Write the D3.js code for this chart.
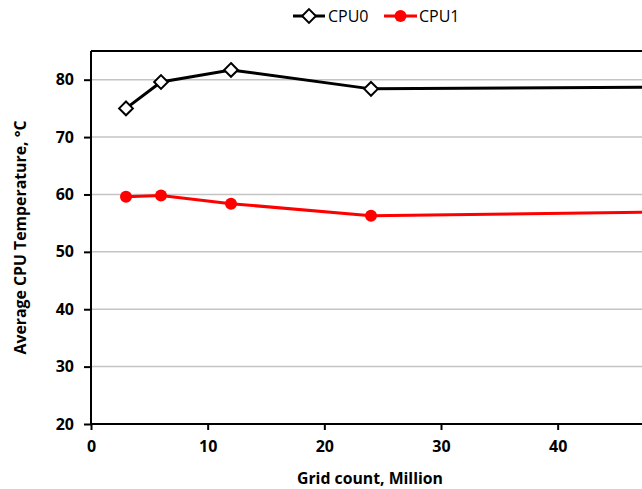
<!DOCTYPE html>
<html>
<head>
<meta charset="utf-8">
<script src="https://cdn.jsdelivr.net/npm/d3@7"></script>
<style>
  html, body { margin: 0; padding: 0; background: #fff; }
  svg { display: block; }
  text { font-family: "Open Sans", "Liberation Sans", sans-serif; }
</style>
</head>
<body>
<svg id="chart" width="642" height="489"></svg>
<script>
// Grid count (million cells) and average CPU temperature per socket
const gridCount = [3, 6, 12, 24, 48];
const cpu0 = [75.0, 79.6, 81.7, 78.4, 78.7];
const cpu1 = [59.6, 59.8, 58.4, 56.3, 56.9];
const seriesNames = ["CPU0", "CPU1"];
const xTicks = [0, 10, 20, 30, 40];
const yTicks = [20, 30, 40, 50, 60, 70, 80];

const svg = d3.select("#chart");

const x = d3.scaleLinear().domain([0, 48]).range([91, 651]);
const y = d3.scaleLinear().domain([20, 85]).range([424, 51]);

// horizontal gridlines
svg.append("g")
  .selectAll("line")
  .data(yTicks.filter(t => t > 20))
  .join("line")
  .attr("x1", x(0)).attr("x2", x(48))
  .attr("y1", d => y(d)).attr("y2", d => y(d))
  .attr("stroke", "#c4c4c4")
  .attr("stroke-width", 1.5);

// top frame
svg.append("line")
  .attr("x1", x(0)).attr("x2", x(48))
  .attr("y1", y(85)).attr("y2", y(85))
  .attr("stroke", "#000").attr("stroke-width", 2);

// axes
const xAxis = svg.append("g")
  .attr("transform", `translate(0,${y(20)})`)
  .call(d3.axisBottom(x).tickValues(xTicks).tickSize(6).tickPadding(11).tickFormat(d3.format("d")));
const yAxis = svg.append("g")
  .attr("transform", `translate(${x(0)},0)`)
  .call(d3.axisLeft(y).tickValues(yTicks).tickSize(7).tickPadding(10).tickFormat(d3.format("d")));

[xAxis, yAxis].forEach(g => {
  g.select(".domain").attr("stroke", "#000").attr("stroke-width", 2);
  g.selectAll(".tick line").attr("stroke", "#000").attr("stroke-width", 2);
  g.selectAll(".tick text")
    .attr("fill", "#000")
    .style("font-size", "16px")
    .style("font-weight", "bold");
});
// axis lines span the full plot area
xAxis.select(".domain").attr("d", `M${x(0)},0H${x(48)}`);
yAxis.select(".domain").attr("d", `M0,${y(20)}V${y(85)}`);

// axis titles
svg.append("text")
  .attr("x", 370).attr("y", 484)
  .attr("text-anchor", "middle")
  .attr("textLength", 146).attr("lengthAdjust", "spacingAndGlyphs")
  .style("font-size", "16px").style("font-weight", "bold")
  .text("Grid count, Million");

svg.append("text")
  .attr("transform", `translate(26,${(y(20) + y(85)) / 2}) rotate(-90)`)
  .attr("text-anchor", "middle")
  .attr("textLength", 234).attr("lengthAdjust", "spacingAndGlyphs")
  .style("font-size", "16px").style("font-weight", "bold")
  .text("Average CPU Temperature,  °C");

// series
const pts0 = gridCount.map((g, i) => [g, cpu0[i]]);
const pts1 = gridCount.map((g, i) => [g, cpu1[i]]);
const line = d3.line().x(d => x(d[0])).y(d => y(d[1]));

svg.append("path")
  .datum(pts1)
  .attr("d", line)
  .attr("fill", "none").attr("stroke", "#ff0000").attr("stroke-width", 3);
svg.append("g").selectAll("circle")
  .data(pts1).join("circle")
  .attr("cx", d => x(d[0])).attr("cy", d => y(d[1]))
  .attr("r", 6).attr("fill", "#ff0000");

svg.append("path")
  .datum(pts0)
  .attr("d", line)
  .attr("fill", "none").attr("stroke", "#000").attr("stroke-width", 3);
const diamond = d3.symbol().type(d3.symbolDiamond2).size(120);
svg.append("g").selectAll("path")
  .data(pts0).join("path")
  .attr("transform", d => `translate(${x(d[0])},${y(d[1])})`)
  .attr("d", diamond)
  .attr("fill", "#fff").attr("stroke", "#000").attr("stroke-width", 2);

// legend
const legend = svg.append("g");
const lg0 = legend.append("g").attr("transform", "translate(293,16)");
lg0.append("line").attr("x1", 0).attr("x2", 32).attr("stroke", "#000").attr("stroke-width", 3);
lg0.append("path").attr("transform", "translate(16,0)").attr("d", diamond)
  .attr("fill", "#fff").attr("stroke", "#000").attr("stroke-width", 2);
lg0.append("text").attr("x", 35).attr("y", 6).style("font-size", "16px").text(seriesNames[0]);

const lg1 = legend.append("g").attr("transform", "translate(384,16)");
lg1.append("line").attr("x1", 0).attr("x2", 33).attr("stroke", "#ff0000").attr("stroke-width", 3);
lg1.append("circle").attr("cx", 16.5).attr("r", 6).attr("fill", "#ff0000");
lg1.append("text").attr("x", 35).attr("y", 6).style("font-size", "16px").text(seriesNames[1]);
</script>
</body>
</html>
